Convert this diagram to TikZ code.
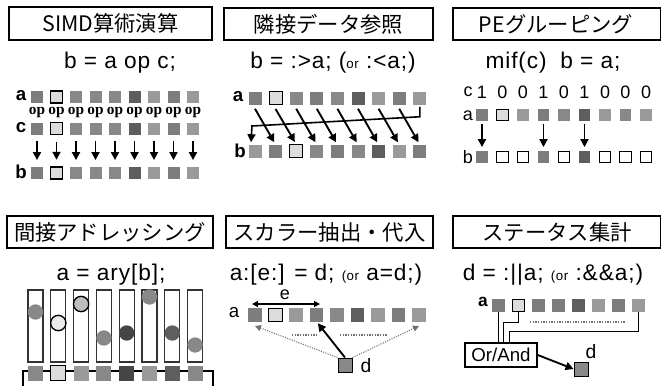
\documentclass[tikz,border=0pt]{standalone}
\usepackage{fontspec}
\setmainfont{Liberation Sans}
\newfontfamily\jfont{Noto Sans CJK JP}
\newfontfamily\serifb{Liberation Serif}
\newfontfamily\ffont{Liberation Sans}[LetterSpace=4]
\usetikzlibrary{arrows.meta,calc}
\definecolor{ga}{HTML}{7D7D7D}
\definecolor{gb}{HTML}{888888}
\definecolor{gc}{HTML}{9A9A9A}
\definecolor{gd}{HTML}{5E5E5E}
\definecolor{ge}{HTML}{454545}
\definecolor{lt}{HTML}{DCDCDC}
\definecolor{dotg}{HTML}{707070}
\tikzset{
  tbox/.style={draw, line width=0.8pt, inner sep=0pt, font=\jfont\fontsize{16}{18}\selectfont},
  formula/.style={inner sep=0pt, font=\ffont\fontsize{17}{19}\selectfont},
  lbl/.style={inner sep=0pt, font=\bfseries\fontsize{14}{15}\selectfont},
  lblr/.style={inner sep=0pt, font=\fontsize{13.5}{15}\selectfont},
  oplbl/.style={inner sep=0pt, font=\serifb\bfseries\fontsize{11.5}{12}\selectfont},
  sq/.style={minimum size=#1, inner sep=0pt, draw=none},
  sq/.default=9pt,
  lsq/.style={minimum size=#1, inner sep=0pt, draw=black, line width=0.8pt, fill=lt},
  lsq/.default=9pt,
  wsq/.style={minimum size=8.5pt, inner sep=0pt, draw=black, line width=0.7pt, fill=white},
  arr/.style={-{Triangle[length=6pt,width=6pt]}, line width=1.4pt},
  darr/.style={-{Triangle[length=4.5pt,width=4.5pt]}, draw=dotg, densely dotted, line width=0.8pt},
  col/.style={draw=black!80, line width=0.8pt, fill=white, minimum width=11.25pt, minimum height=54pt, inner sep=0pt},
  circ/.style={circle, minimum size=11.5pt, inner sep=0pt},
  ocirc/.style={circle, minimum size=11.5pt, inner sep=0pt, draw=black, line width=1pt},
}
\begin{document}
\begin{tikzpicture}[x=0.75pt,y=-0.75pt]
\useasboundingbox[fill=white] (0,0) rectangle (661,386);

% ---------------- Panel 1 ----------------
\node[tbox, minimum width=152.25pt, minimum height=24.75pt] (t1) at (110.5,23.5) {SIMD算術演算};
\node[formula] (f1) at (120,63) {b = a op c;};
\node[lbl] (la1) at (21,96) {a};
\node[lbl] (lc1) at (21,128) {c};
\node[lbl] (lb1) at (21,172) {b};
\foreach \r/\y in {a/97,c/128.5,b/173}{
  \foreach \i/\c in {0/ga,2/gb,3/gb,4/gb,5/gd,6/gc,7/ga,8/gc}{
    \node[sq, fill=\c] (\r1-\i) at ({37+19.5*\i},\y) {};
  }
  \node[lsq] (\r1-1) at (56.5,\y) {};
}
\foreach \i in {0,...,8}{
  \node[oplbl] (op-\i) at ({37+19.5*\i},113) {op};
  \draw[arr] ([yshift=-5pt]c1-\i.south) -- ([yshift=5pt]b1-\i.north);
}

% ---------------- Panel 2 ----------------
\node[tbox, minimum width=156.75pt, minimum height=24pt] (t2) at (328.5,24) {隣接データ参照};
\node[formula] (f2) at (333,63) {b = :>a; ({\fontsize{10}{11}\selectfont or} :<a;)};
\node[lbl] (la2) at (238,97) {a};
\node[lbl] (lb2) at (240,151) {b};
\foreach \i/\c in {0/ga,2/gb,3/ga,4/gb,5/gd,6/gc,7/ga,8/gc}{
  \node[sq=9.75pt, fill=\c] (a2-\i) at ({255+20.6*\i},98) {};
}
\node[lsq=9.75pt] (a2-1) at (275.6,98) {};
\foreach \i/\c in {0/gc,1/ga,3/gb,4/ga,5/gb,6/gd,7/gc,8/ga}{
  \node[sq=9.75pt, fill=\c] (b2-\i) at ({255+20.6*\i},151) {};
}
\node[lsq=9.75pt] (b2-2) at (296.2,151) {};
\foreach \i [evaluate=\i as \j using int(\i+1)] in {0,...,7}{
  \draw[arr] ([yshift=-3pt]a2-\i.south) -- ([xshift=-1pt,yshift=1.5pt]b2-\j.north);
}
\draw[arr, line width=1.2pt] ([yshift=-1.5pt]a2-8.south) -- ++(0,10) -- (252,126) -- ([xshift=-3pt,yshift=1.5pt]b2-0.north);

% ---------------- Panel 3 ----------------
\draw[line width=0.8pt] (453,8) rectangle (661,40);
\node[inner sep=0pt, font=\jfont\fontsize{16}{18}\selectfont] (t3) at (556,24) {PEグルーピング};
\node[formula] (f3) at (553,63) {mif(c)\hspace{0.6em}b = a;};
\node[lblr] (lc3) at (468,92) {c};
\node[lblr] (la3) at (468,116) {a};
\node[lblr] (lb3) at (468,157) {b};
\foreach \i/\d in {0/1,1/0,2/0,3/1,4/0,5/1,6/0,7/0,8/0}{
  \node[lblr] (c3-\i) at ({482+20.5*\i},92) {\d};
}
\foreach \i/\c in {0/ga,2/gc,3/ga,4/gb,5/gd,6/gc,7/gb,8/gc}{
  \node[sq=8.5pt, fill=\c] (a3-\i) at ({482+20.5*\i},115) {};
}
\node[lsq=8.5pt] (a3-1) at (502.5,115) {};
\foreach \i/\c in {0/ga,3/ga,5/gd}{
  \node[sq=8.5pt, fill=\c] (b3-\i) at ({482+20.5*\i},157) {};
  \draw[arr] ([yshift=-2pt]a3-\i.south) -- ([yshift=3pt]b3-\i.north);
}
\foreach \i in {1,2,4,6,7,8}{
  \node[wsq] (b3-\i) at ({482+20.5*\i},157) {};
}

% ---------------- Panel 4 ----------------
\node[tbox, minimum width=154.5pt, minimum height=24pt] (t4) at (110,232) {間接アドレッシング};
\node[formula] (f4) at (111,275) {a = ary[b];};
\draw[line width=0.8pt] (23,386) -- (23,371) -- (213,371) -- (213,386);
\foreach \i/\sc in {0/gb,1/lt,2/gc,3/gb,4/ge,5/gc,6/gd,7/gb}{
  \node[col] (k4-\i) at ({35.5+22.8*\i},326) {};
  \node[sq=11.25pt, fill=\sc] (s4-\i) at ({35.5+22.8*\i},373) {};
}
\node[lsq=11.25pt] (s4-1) at (58.3,373) {};
\foreach \i/\cy/\cc in {0/312/gb,3/338/gb,4/333/ge,5/297/gb,6/333/gd,7/345/gb}{
  \node[circ, fill=\cc] (c4-\i) at ({35.5+22.8*\i},\cy) {};
}
\node[ocirc, fill=white!92!black] (c4-1) at (58.3,323) {};
\node[ocirc, fill=black!25] (c4-2) at (81.1,304) {};

% ---------------- Panel 5 ----------------
\node[tbox, minimum width=155.25pt, minimum height=24pt] (t5) at (329.5,232) {スカラー抽出・代入};
\node[formula] (f5) at (326,275) {a:[e:] = d; {\fontsize{10}{11}\selectfont (or} a=d;)};
\node[lblr, font=\fontsize{14}{15}\selectfont] (la5) at (234,313) {a};
\foreach \i/\c in {0/ga,2/gc,3/ga,4/gb,5/gd,6/gc,7/ga,8/gc}{
  \node[sq=10pt, fill=\c] (a5-\i) at ({255+20.5*\i},315) {};
}
\node[lsq=10pt] (a5-1) at (275.5,315) {};
\coordinate (e5l) at (252,304);
\coordinate (e5r) at (320,304);
\draw[{Triangle[length=4.5pt,width=4.5pt]}-{Triangle[length=4.5pt,width=4.5pt]}, line width=0.9pt] (e5l) -- (e5r);
\node[lblr] (le5) at (285,295) {e};
\node[sq=10.5pt, fill=gb, draw=black, line width=0.7pt] (d5) at (345,365) {};
\node[lblr, font=\fontsize{14.5}{15}\selectfont] (ld5) at (366,366) {d};
\draw[darr] (d5.north west) -- ([yshift=-3pt]a5-0.south);
\draw[darr] (d5.north east) -- ([yshift=-3pt]a5-8.south);
\draw[arr, line width=1.4pt] (d5.north) -- ([xshift=1pt,yshift=-1pt]a5-3.south);
\coordinate (h5a) at (292,335);
\coordinate (h5b) at (317,335);
\coordinate (h5c) at (340,335);
\coordinate (h5d) at (388,335);
\draw[dotg, densely dotted, line width=1pt] (h5a) -- (h5b);
\draw[dotg, densely dotted, line width=1pt] (h5c) -- (h5d);

% ---------------- Panel 6 ----------------
\draw[line width=0.8pt] (453,216) rectangle (661,248);
\node[inner sep=0pt, font=\jfont\fontsize{16}{18}\selectfont] (t6) at (557,232) {ステータス集計};
\node[formula] (f6) at (553,275) {d = :||a; {\fontsize{10}{11}\selectfont (or} :\&\&a;)};
\node[lbl, font=\bfseries\fontsize{13}{14}\selectfont] (la6) at (483,302) {a};
\foreach \i/\c in {0/ga,2/ga,3/ga,4/gd,5/gc,6/ga,7/gc}{
  \node[sq=9.5pt, fill=\c] (a6-\i) at ({498.5+20*\i},305.5) {};
}
\node[lsq=9.5pt] (a6-1) at (518.5,305.5) {};
\node[draw, line width=1.2pt, inner sep=1pt, minimum width=54pt, minimum height=18pt, font=\fontsize{14}{15}\selectfont] (ob) at (501,355) {Or/And};
\draw[line width=1pt] (a6-0.south) -- (a6-0.south |- ob.north);
\draw[line width=1pt] (a6-1.south) |- ($(ob.north west)+(39,-20)$) -- ($(ob.north west)+(39,0)$);
\draw[line width=1pt] (a6-7.south) |- ($(ob.north west)+(45,-11)$) -- ($(ob.north west)+(45,0)$);
\coordinate (h6a) at (530,322);
\coordinate (h6b) at (625,322);
\draw[dotg, densely dotted, line width=1pt] (h6a) -- (h6b);
\node[sq=10.5pt, fill=gb, draw=black, line width=0.7pt] (d6) at (581,369) {};
\node[lblr, font=\fontsize{14.5}{15}\selectfont] (ld6) at (591,352) {d};
\draw[arr] (ob.east) -- (d6.west);
\end{tikzpicture}
\end{document}
